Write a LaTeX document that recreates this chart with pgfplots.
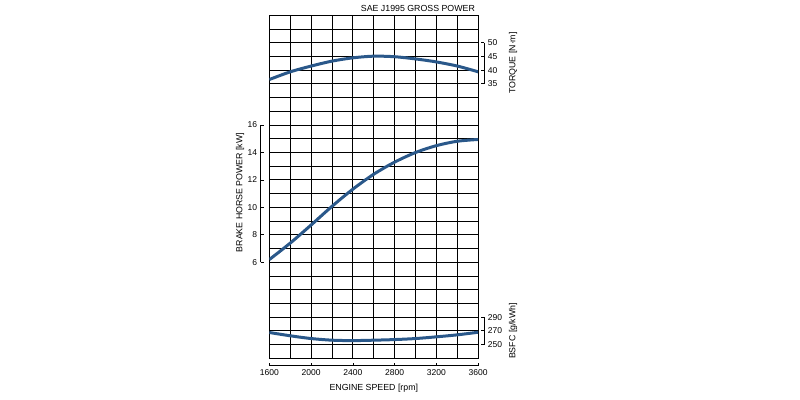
\documentclass[border=0pt]{standalone}
\usepackage{pgfplots}
\pgfplotsset{compat=1.18}
\usepackage{fontspec}
\setmainfont{Liberation Sans}
\definecolor{curve}{RGB}{42,88,138}
\begin{document}
\begin{tikzpicture}[x=1pt,y=1pt]
\path[use as bounding box] (0,0) rectangle (800,399);
\pgfplotsset{every axis/.append style={scale only axis,
  font=\fontsize{8.5}{10}\selectfont,
  /pgf/number format/assume math mode=true,
  /pgf/number format/1000 sep={},
  major tick length=3pt,
  axis line style={line width=0.8pt, black},
  every tick/.style={line width=0.8pt, black}},
  partial/.style={tick align=inside,
  every outer x axis line/.append style={-},
  every outer y axis line/.append style={-},
  x axis line style={-}, y axis line style={-}}}
% main grid with power curve
\begin{axis}[at={(269.4pt,40.7pt)}, anchor=south west, width=208.8pt, height=343pt,
  xmin=1600, xmax=3600, ymin=-1, ymax=24,
  xtick={1600,1800,...,3600}, ytick={-1,0,...,24},
  xticklabels={}, yticklabels={}, major tick length=0pt,
  grid=major, grid style={black, line width=0.9pt}]
\addplot[curve, line width=3pt, smooth] coordinates {
(1600,6.2) (1800,7.4) (2000,8.72) (2200,10.08) (2400,11.33) (2600,12.42)
(2800,13.3) (3000,14.0) (3200,14.5) (3400,14.82) (3600,14.95)};
\end{axis}
% torque curve
\begin{axis}[at={(269.4pt,40.7pt)}, anchor=south west, width=208.8pt, height=343pt,
  xmin=1600, xmax=3600, ymin=-65, ymax=60, hide axis]
\addplot[curve, line width=3pt, smooth] coordinates {
(1600,36.6) (1800,39.4) (2000,41.5) (2200,43.3) (2400,44.5) (2600,45.1)
(2800,44.9) (3000,44.1) (3200,43.0) (3400,41.5) (3600,39.4)};
\end{axis}
% bsfc curve
\begin{axis}[at={(269.4pt,40.7pt)}, anchor=south west, width=208.8pt, height=343pt,
  xmin=1600, xmax=3600, ymin=230, ymax=730, hide axis]
\addplot[curve, line width=3pt, smooth] coordinates {
(1600,267.6) (1800,262.8) (2000,258.8) (2200,256.4) (2400,255.8) (2600,256.4)
(2800,257.3) (3000,258.8) (3200,261.3) (3400,264.2) (3600,268)};
\end{axis}
% power axis (left)
\begin{axis}[at={(260.7pt,136.74pt)}, anchor=south west, width=1pt, height=137.2pt,
  xmin=0, xmax=1, ymin=6, ymax=16, axis y line=left, axis x line=none, partial,
  ytick={6,8,...,16}, xtick=\empty]
\end{axis}
% torque axis (right)
\begin{axis}[at={(484.3pt,315.1pt)}, anchor=south east, width=1pt, height=41.16pt,
  xmin=0, xmax=1, ymin=35, ymax=50, axis y line=right, axis x line=none, partial,
  ytick={35,40,45,50}, xtick=\empty]
\end{axis}
% bsfc axis (right)
\begin{axis}[at={(484.3pt,54.42pt)}, anchor=south east, width=1pt, height=27.44pt,
  xmin=0, xmax=1, ymin=250, ymax=290, axis y line=right, axis x line=none, partial,
  ytick={250,270,290}, xtick=\empty]
\end{axis}
% engine speed axis (bottom)
\begin{axis}[at={(269.4pt,33.3pt)}, anchor=south west, width=208.8pt, height=1pt,
  xmin=1600, xmax=3600, ymin=0, ymax=1, axis x line=bottom, axis y line=none, partial,
  xtick={1600,2000,...,3600}, ytick=\empty]
\end{axis}
\begin{scope}[font=\fontsize{8.8}{10}\selectfont]
\node[anchor=east] at (478.4,391) {SAE J1995 GROSS POWER};
\node[rotate=90] at (240,206.5) {BRAKE HORSE POWER [kW]};
\node[rotate=90] at (513,336) {TORQUE [N·m]};
\node[rotate=90] at (513,68) {BSFC [g/kWh]};
\node at (373.8,11) {ENGINE SPEED [rpm]};
\end{scope}
\end{tikzpicture}
\end{document}
